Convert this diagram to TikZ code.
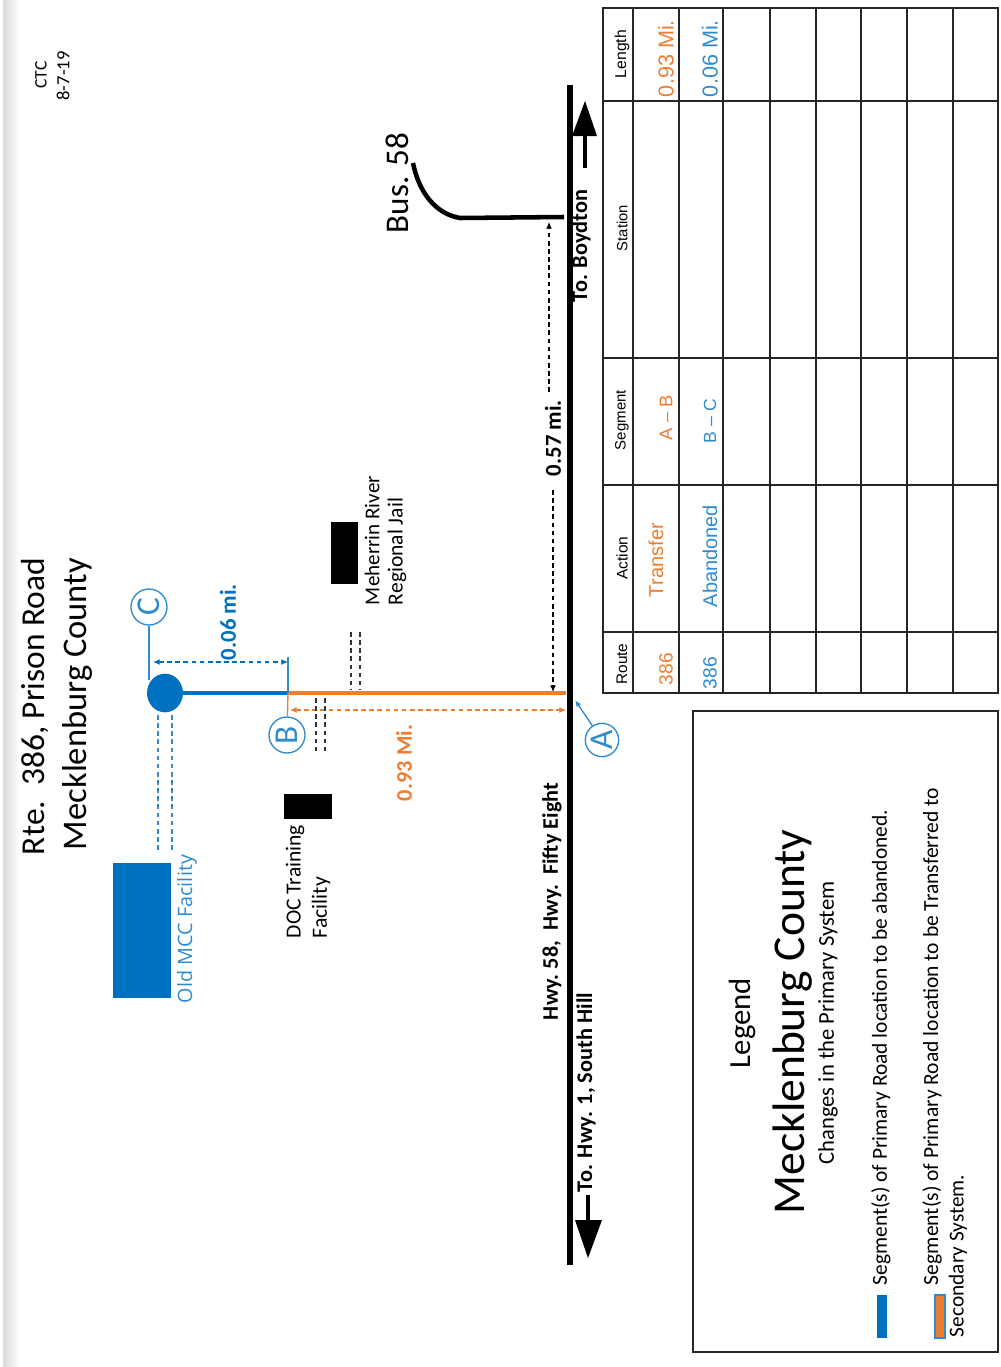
\documentclass[tikz,border=0pt]{standalone}
\usepackage{fontspec}
\usepackage{graphicx}
\setmainfont{Carlito}
\newfontfamily\tblfont{Liberation Sans}
\newfontfamily\opf{Open Sans}
\usetikzlibrary{arrows.meta,calc,shapes.geometric}
\definecolor{orng}{HTML}{ED7D31}
\definecolor{dblue}{HTML}{0070C0}
\definecolor{lblue}{HTML}{2F8BD0}
\newcommand{\T}[2]{\resizebox{\dimexpr#1pt*3/4\relax}{!}{#2}}
\tikzset{
  rt/.style={rotate=90,anchor=west,inner sep=0pt,outer sep=0pt},
  rc/.style={rotate=90,anchor=center,inner sep=0pt,outer sep=0pt},
  road/.style={line width=3.6pt},
  dsh/.style={line width=0.9pt,dash pattern=on 3.5pt off 2.6pt},
  dshtip/.style={dsh,{Latex[length=5pt,width=4.5pt]}-{Latex[length=5pt,width=4.5pt]}},
  grid/.style={draw=black!85,line width=1.1pt},
  letter/.style={ellipse,draw=lblue,line width=1pt,minimum width=27pt,minimum height=27pt,inner sep=0pt,text=lblue,rotate=90,font=\fontsize{25}{25}\selectfont},
  thinb/.style={line width=1pt,lblue},
}
\begin{document}
\begin{tikzpicture}[x=0.75pt,y=-0.75pt]
\useasboundingbox (0,0) rectangle (1000,1367);
\fill[white] (0,0) rectangle (1000,1367);
\shade[left color=black!14,right color=white] (3,0) rectangle (20,1367);

% title
\node[rt] (title1) at (35,855) {\T{297}{Rte.\ \ 386, Prison Road}};
\node[rt] (title2) at (77,850) {\T{292}{Mecklenburg County}};
\node[rc] (ctc) at (41,75) {\T{27}{CTC}};
\node[rc] (date) at (63,76) {\T{49}{8-7-19}};

% main road
\coordinate (rtop) at (570,85);
\coordinate (rbot) at (570,1265);
\draw[line width=3.9pt] (rtop) -- (rbot);
% direction arrows
\coordinate (a1s) at (585,168);
\coordinate (a1t) at (585,101);
\draw[line width=3.4pt] (a1s) -- (585,130);
\fill (a1t) -- (597,136) -- (572,136) -- cycle;
\coordinate (a2s) at (588,1195);
\coordinate (a2t) at (588,1258);
\draw[line width=3.4pt] (a2s) -- (588,1225);
\fill (a2t) -- (602,1220) -- (575,1220) -- cycle;

\node[rt] (boyd) at (581,302) {\T{112}{\bfseries To. Boydton}};
\node[rt] (south) at (586,1192) {\T{199}{\bfseries To. Hwy. 1, South Hill}};
\node[rt] (hwy) at (552,1020) {\T{237}{\bfseries Hwy.\ 58,\ \ Hwy.\ \ Fifty Eight}};

% Bus 58
\coordinate (busa) at (564,217);
\coordinate (busb) at (460,218);
\coordinate (busc) at (413,163);
\draw[line width=3.4pt] (busa) -- (busb) .. controls (436,214) and (419,193) .. (busc);
\node[rt] (bus) at (397,233) {\T{100}{Bus. 58}};

% 0.57 mi
\node[rc] (d57) at (553,438) {\T{76}{\bfseries 0.57 mi.}};
\coordinate (d57a) at (549,222);
\coordinate (d57b) at (553,692);
\draw[dsh,-{Latex[length=5pt,width=4.5pt]}] (549,392) -- (d57a);
\draw[dsh,-{Latex[length=5pt,width=4.5pt]}] (553,490) -- (d57b);

% routes
\coordinate (ptA) at (566,693);
\coordinate (ptB) at (288,693);
\node[ellipse,fill=dblue,minimum width=27pt,minimum height=29pt,inner sep=0pt] (ptC) at (165,693) {};
\draw[road,orng] (ptA) -- (ptB);
\draw[road,dblue] (ptB) -- (ptC);

% letters
\node[letter] (C) at (149,607) {C};
\node[letter] (B) at (287,735) {B};
\node[letter,minimum width=25pt,minimum height=25pt] (A) at (602,740) {A};
\draw[thinb] (C) -- (149,680);
\draw[line width=1pt,orng] (ptB) -- (B);
\draw[thinb,-{Latex[length=5pt,width=4pt]}] (A) -- (575,700);

% dimensions
\coordinate (tickb) at (288,657);
\draw[thinb] (tickb) -- (ptB);
\draw[dshtip,dblue] (153,662) -- (288,662);
\node[rc,text=dblue] (d06) at (228,622) {\T{76}{\bfseries 0.06 mi.}};
\draw[dshtip,orng] (290,710) -- (566,710);
\node[rc,text=orng] (d93) at (404,763) {\T{76}{\bfseries 0.93 Mi.}};

% dashed side roads
\draw[dsh,black!80] (316,698) -- (316,752);
\draw[dsh,black!80] (325,698) -- (325,752);
\draw[dsh,black!80] (351,632) -- (351,689);
\draw[dsh,black!80] (360,632) -- (360,689);
\draw[dsh,lblue] (158,715) -- (158,850);
\draw[dsh,lblue] (172,715) -- (172,850);

% buildings
\fill[dblue] (113,863) rectangle (171,998);
\node[rt,text=lblue] (mcc) at (187,1003) {\T{148}{\opf Old MCC Facility}};
\fill (284,794) rectangle (332,819);
\node[rt] (doc1) at (295,938) {\T{113}{DOC Training}};
\node[rt] (doc2) at (321,938) {\T{61}{Facility}};
\fill (331,522) rectangle (358,584);
\node[rt] (mer1) at (372,605) {\T{129}{Meherrin River}};
\node[rt] (mer2) at (397,605) {\T{107}{Regional Jail}};

% table
\draw[grid] (603,8) rectangle (998,693);
\foreach \yy in {101,358,485,632} \draw[grid] (603,\yy) -- (998,\yy);
\foreach \xx in {633,679,723,770,816,861,907,953} \draw[grid] (\xx,8) -- (\xx,693);
\node[rc] (h5) at (622,54) {\T{48}{\tblfont Length}};
\node[rc] (h4) at (622,228) {\T{46}{\tblfont Station}};
\node[rc] (h3) at (622,420) {\T{60}{\tblfont Segment}};
\node[rc] (h2) at (622,558) {\T{43}{\tblfont Action}};
\node[rc] (h1) at (622,664) {\T{41}{\tblfont Route}};
\node[rt,text=orng] (r1) at (666,685) {\T{32}{\tblfont 386}};
\node[rt,text=orng] (a1) at (656,597) {\T{74}{\tblfont Transfer}};
\node[rt,text=orng] (s1) at (666,440) {\T{45}{\tblfont A – B}};
\node[rt,text=orng] (l1) at (666,97) {\T{77}{\tblfont 0.93 Mi.}};
\node[rt,text=lblue] (r2) at (710,689) {\T{32}{\tblfont 386}};
\node[rt,text=lblue] (a2) at (710,607) {\T{102}{\tblfont Abandoned}};
\node[rt,text=lblue] (s2) at (710,443) {\T{44}{\tblfont B – C}};
\node[rt,text=lblue] (l2) at (710,97) {\T{77}{\tblfont 0.06 Mi.}};

% legend
\draw[draw=black!85,line width=1.1pt] (693,711) rectangle (998,1352);
\node[rc] (leg) at (742,1023) {\T{90}{Legend}};
\node[rc] (legm) at (793,1022) {\T{385}{Mecklenburg County}};
\node[rc] (legc) at (828,1023) {\T{283}{Changes in the Primary System}};
\node[rt] (l1a) at (881,1285) {\T{475}{Segment(s) of Primary Road location to be abandoned.}};
\node[rt] (l2a) at (932,1285) {\T{497}{Segment(s) of Primary Road location to be Transferred to}};
\node[rt] (l2b) at (958,1337) {\T{162}{Secondary System.}};
\fill[dblue] (877,1295) rectangle (887,1338);
\draw[lblue,fill=orng,line width=0.8pt] (935,1295) rectangle (945,1338);
\end{tikzpicture}
\end{document}
